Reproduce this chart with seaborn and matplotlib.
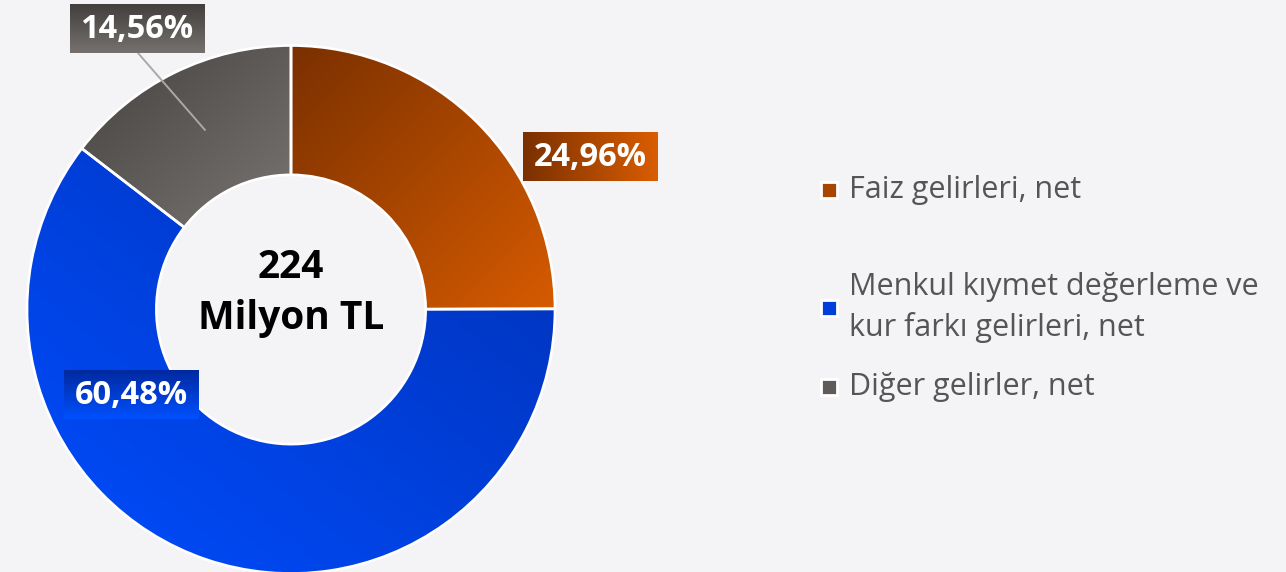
import numpy as np
import matplotlib.pyplot as plt
import matplotlib.colors as mcolors
from matplotlib.patches import Rectangle
import seaborn as sns

sns.set_theme(style="white")
plt.rcParams['font.family'] = ['Open Sans', 'Noto Sans', 'DejaVu Sans']

# data
categories = ["Faiz gelirleri, net",
              "Menkul kıymet değerleme ve\nkur farkı gelirleri, net",
              "Diğer gelirler, net"]
shares = [24.96, 60.48, 14.56]
total_label = "224\nMilyon TL"

# colours: (dark, bright) pairs for the gradients
wedge_cols = [("#7a3000", "#d65b00"), ("#0031b5", "#004dff"), ("#45413f", "#797573")]
box_cols = [("#7a3000", "#da5d00"), ("#0029a0", "#0050ff"), ("#423f3c", "#76716e")]
bg = "#f4f4f6"

W, H = 1286, 572


def grad(c0, c1, mode, n=200):
    u, v = np.meshgrid(np.linspace(0, 1, n), np.linspace(0, 1, n))
    t = {"tl": (u + v) / 2, "tr": ((1 - u) + v) / 2, "h": u, "v": v}[mode]
    a, b = np.array(mcolors.to_rgb(c0)), np.array(mcolors.to_rgb(c1))
    return a + (b - a) * t[..., None]


fig = plt.figure(figsize=(W / 100, H / 100), dpi=100, facecolor=bg)
ax = fig.add_axes([0, 0, 1, 1])
ax.set_facecolor(bg)

cx, cy, r = 291, H - 309.5, 264
wedges, _ = ax.pie(shares, startangle=90, counterclock=False, center=(cx, cy), radius=r,
                   wedgeprops=dict(width=r * 0.49, edgecolor="white", linewidth=1.9))

fig.canvas.draw()
inv = ax.transData.inverted()
modes = ["tl", "tr", "tl"]
for w, (c0, c1), m in zip(wedges, wedge_cols, modes):
    bb = w.get_window_extent().transformed(inv)
    im = ax.imshow(grad(c0, c1, m), extent=(bb.x0, bb.x1, bb.y0, bb.y1),
                   interpolation="bilinear", zorder=1)
    im.set_clip_path(w)
    w.set_facecolor("none")
    w.set_zorder(2)

ax.set_xlim(0, W)
ax.set_ylim(0, H)
ax.set_aspect("equal")
ax.axis("off")

# centre text
lines = total_label.split("\n")
ax.text(cx, H - 268, lines[0], ha="center", va="center", fontsize=28, fontweight="bold", color="black", zorder=5)
ax.text(cx, H - 318, lines[1], ha="center", va="center", fontsize=28, fontweight="bold", color="black", zorder=5)

# percentage labels (box centres, px from top)
label_pos = [(590, 157), (131, 395), (137, 29)]
box_modes = ["h", "v", "v"]
bw, bh = 135, 49
ax.plot([138, 205], [H - 53, H - 130], color="#a9a9a9", lw=1.4, zorder=3)
for val, (px, py), (c0, c1), m in zip(shares, label_pos, box_cols, box_modes):
    y = H - py
    ax.imshow(grad(c0, c1, m), extent=(px - bw / 2, px + bw / 2, y - bh / 2, y + bh / 2),
              interpolation="bilinear", zorder=4)
    txt = f"{val:.2f}".replace(".", ",") + "%"
    ax.text(px, y, txt, ha="center", va="center", fontsize=23.5, fontweight="bold", color="white", zorder=5)

ax.set_xlim(0, W)
ax.set_ylim(0, H)

# legend
leg_y = [190, 307.5, 386.5]
for lab, (c0, c1), py in zip(categories, wedge_cols, leg_y):
    y = H - py
    mid = tuple((np.array(mcolors.to_rgb(c0)) + np.array(mcolors.to_rgb(c1))) / 2)
    ax.add_patch(Rectangle((821, y - 8), 16, 16, facecolor=mid, edgecolor="white", lw=2, zorder=5))
    ax.text(849, y, lab, ha="left", va="center", fontsize=22, color="#555555",
            linespacing=1.44, zorder=5)

fig.savefig("out.png", dpi=100, facecolor=bg)
